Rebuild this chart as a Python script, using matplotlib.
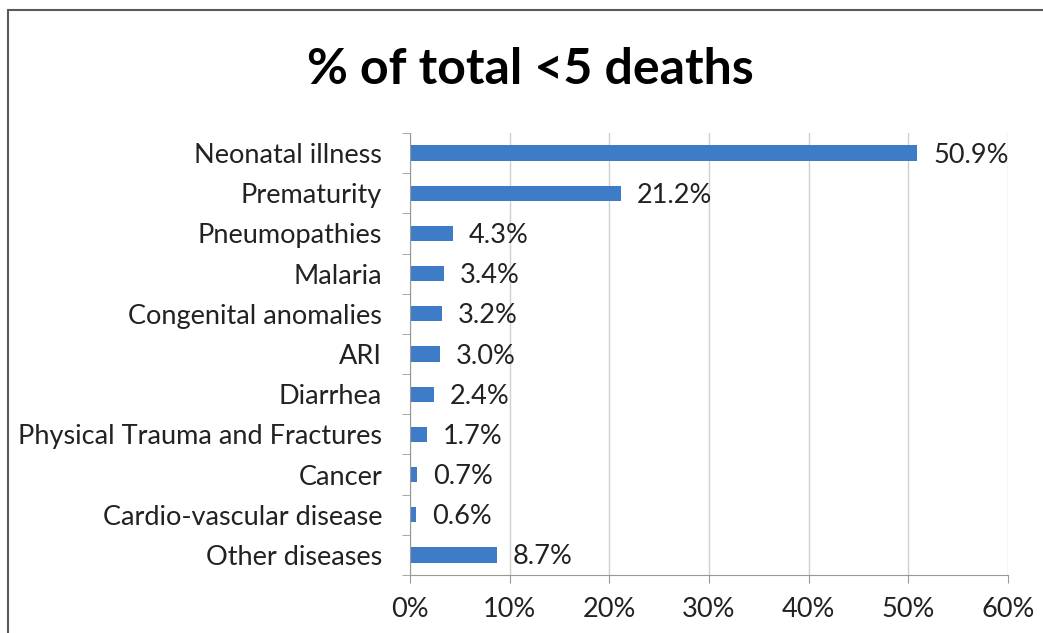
import matplotlib.pyplot as plt
from matplotlib.patches import Rectangle
from matplotlib.ticker import FuncFormatter

causes = ['Neonatal illness', 'Prematurity', 'Pneumopathies', 'Malaria',
          'Congenital anomalies', 'ARI', 'Diarrhea',
          'Physical Trauma and Fractures', 'Cancer',
          'Cardio-vascular disease', 'Other diseases']
share = [50.9, 21.2, 4.3, 3.4, 3.2, 3.0, 2.4, 1.7, 0.7, 0.6, 8.7]
xticks = [0, 10, 20, 30, 40, 50, 60]

plt.rcParams['font.family'] = ['Lato', 'DejaVu Sans']

fig = plt.figure(figsize=(10.43, 6.33), dpi=100)
ax = fig.add_axes([410/1043, 1-575/633, 598/1043, 442/633])

# chart frame, running off the right and bottom edges
fig.patches.append(Rectangle((8/1043, -0.05), 1.1, 1-10/633+0.05,
                             transform=fig.transFigure, fill=False,
                             edgecolor='#5a5a5a', lw=1.5))

y = list(range(len(causes)))
ax.barh(y, share, height=0.38, color='#3f7cc8')
for yi, v in zip(y, share):
    ax.text(v + 1.6, yi + 0.05, '%.1f%%' % v, va='center', ha='left',
            fontsize=19.5, color='#222222')

ax.set_ylim(len(causes) - 0.5, -0.5)
ax.set_xlim(0, 60)
ax.set_yticks(y)
ax.set_yticklabels(causes, fontsize=19.5, color='#222222')
ax.set_yticks([i + 0.5 for i in range(-1, len(causes))], minor=True)
ax.tick_params(axis='y', which='major', length=0, pad=20)
ax.tick_params(axis='y', which='minor', length=6, color='#999999')
ax.set_xticks(xticks)
ax.xaxis.set_major_formatter(FuncFormatter(lambda v, p: '%d%%' % v))
ax.tick_params(axis='x', length=6, color='#999999', labelsize=19.5,
               labelcolor='#222222', pad=10)
ax.grid(axis='x', color='#d0d0d0', lw=1)
ax.set_axisbelow(True)
for s in ['top', 'right']:
    ax.spines[s].set_visible(False)
for s in ['left', 'bottom']:
    ax.spines[s].set_color('#999999')

fig.text(530/1043, 1-70/633, '% of total <5 deaths', ha='center', va='center',
         fontsize=36, fontweight='bold')

fig.savefig('out.png', dpi=100)
